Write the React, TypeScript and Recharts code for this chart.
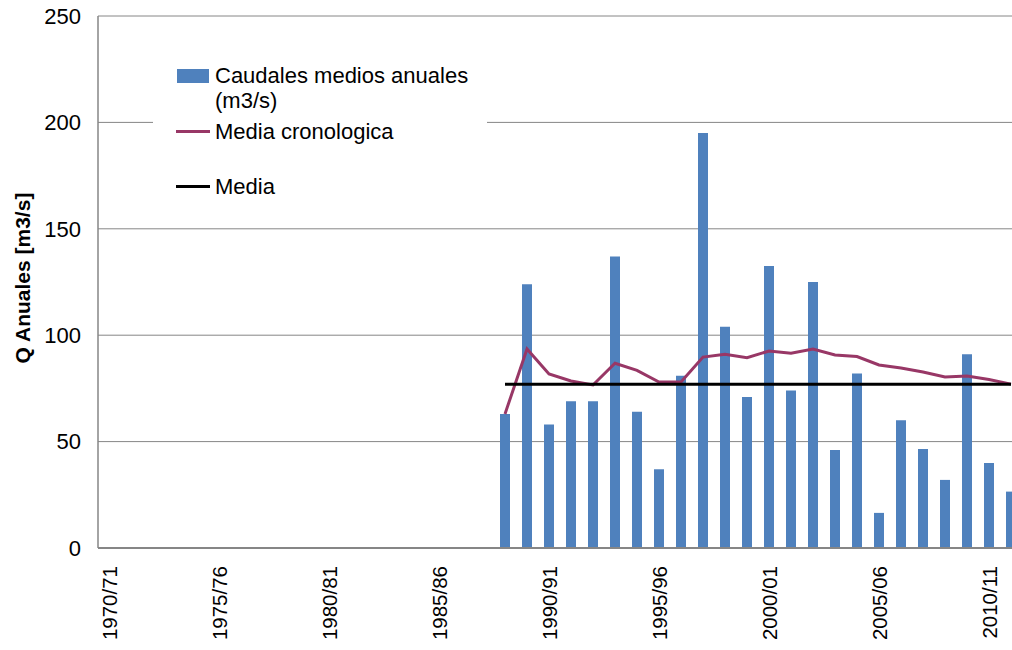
import React from 'react';
import { ComposedChart, Bar, Line, XAxis, YAxis, CartesianGrid, Label } from 'recharts';

const years = [
  '1970/71', '1971/72', '1972/73', '1973/74', '1974/75', '1975/76', '1976/77',
  '1977/78', '1978/79', '1979/80', '1980/81', '1981/82', '1982/83', '1983/84',
  '1984/85', '1985/86', '1986/87', '1987/88', '1988/89', '1989/90', '1990/91',
  '1991/92', '1992/93', '1993/94', '1994/95', '1995/96', '1996/97', '1997/98',
  '1998/99', '1999/00', '2000/01', '2001/02', '2002/03', '2003/04', '2004/05',
  '2005/06', '2006/07', '2007/08', '2008/09', '2009/10', '2010/11', '2011/12',
];

// first year with measurements
const firstYear = '1988/89';

const caudales = [
  63, 124, 58, 69, 69, 137, 64, 37, 81, 195, 104, 71,
  132.5, 74, 125, 46, 82, 16.5, 60, 46.5, 32, 91, 40, 26.5,
];

const mediaCronologica = [
  63, 93.5, 81.8, 78.5, 76.6, 86.8, 83.5, 78, 78, 89.7, 91, 89.4,
  92.6, 91.5, 93.5, 90.7, 90, 86, 84.6, 82.7, 80.4, 80.8, 79.2, 77,
];

const media = 77;

const yTicks = [0, 50, 100, 150, 200, 250];

const start = years.indexOf(firstYear);
const data = years.map((year, i) => {
  const k = i - start;
  const has = k >= 0 && k < caudales.length;
  return {
    year,
    caudal: has ? caudales[k] : null,
    cronologica: has ? mediaCronologica[k] : null,
    media: has ? media : null,
  };
});

const FONT = '"Liberation Sans", Arial, sans-serif';
const GRID = '#868686';
const BLUE = '#4F81BD';
const MAROON = '#983766';

function YearTick(props: any) {
  const { x, y, payload } = props;
  return (
    <text
      x={x}
      y={y + 10}
      transform={`rotate(-90, ${x}, ${y + 10})`}
      textAnchor="end"
      dominantBaseline="central"
      fontSize={20.5}
      fontFamily={FONT}
      fill="#000"
    >
      {payload.value}
    </text>
  );
}

function YLabel(props: any) {
  const { viewBox } = props;
  const x = viewBox.x + 22;
  const y = viewBox.y + viewBox.height / 2 - 4;
  return (
    <text
      x={x}
      y={y}
      transform={`rotate(-90, ${x}, ${y})`}
      textAnchor="middle"
      dominantBaseline="central"
      fontSize={21}
      fontWeight="bold"
      fontFamily={FONT}
      fill="#000"
    >
      Q Anuales [m3/s]
    </text>
  );
}

function ChartLegend() {
  const text: React.CSSProperties = { position: 'absolute', left: 62, fontSize: 22, lineHeight: '25px', color: '#000' };
  return (
    <div
      style={{
        position: 'absolute',
        left: 153,
        top: 55,
        width: 334,
        height: 150,
        background: '#fff',
        fontFamily: FONT,
      }}
    >
      <div style={{ position: 'absolute', left: 24, top: 14, width: 32, height: 14, background: BLUE }} />
      <div style={{ ...text, top: 8 }}>
        Caudales medios anuales
        <br />
        (m3/s)
      </div>
      <div style={{ position: 'absolute', left: 23, top: 75, width: 34, height: 3, background: MAROON }} />
      <div style={{ ...text, top: 64 }}>Media cronologica</div>
      <div style={{ position: 'absolute', left: 23, top: 130, width: 34, height: 3, background: '#000' }} />
      <div style={{ ...text, top: 119 }}>Media</div>
    </div>
  );
}

export default function App() {
  return (
    <div
      style={{
        position: 'absolute',
        left: 0,
        top: 0,
        width: 1012,
        height: 650,
        overflow: 'hidden',
        background: '#fff',
      }}
    >
      <ComposedChart
        width={1030}
        height={650}
        data={data}
        margin={{ top: 16, right: 8, bottom: 0, left: 0 }}
      >
        <CartesianGrid vertical={false} stroke={GRID} strokeWidth={1} />
        <XAxis
          dataKey="year"
          interval={4}
          height={102}
          tickLine={false}
          axisLine={{ stroke: GRID, strokeWidth: 2 }}
          tick={<YearTick />}
        />
        <YAxis
          domain={[0, 250]}
          ticks={yTicks}
          width={98}
          tickLine={false}
          tickSize={0}
          tickMargin={17}
          axisLine={{ stroke: GRID, strokeWidth: 1.5 }}
          tick={{ fontSize: 22, fontFamily: FONT, fill: '#000' }}
        >
          <Label content={<YLabel />} />
        </YAxis>
        <Bar dataKey="caudal" fill={BLUE} barSize={10} isAnimationActive={false} />
        <Line
          dataKey="cronologica"
          stroke={MAROON}
          strokeWidth={3}
          dot={false}
          isAnimationActive={false}
        />
        <Line
          dataKey="media"
          stroke="#000"
          strokeWidth={3}
          dot={false}
          isAnimationActive={false}
        />
      </ComposedChart>
      <ChartLegend />
    </div>
  );
}
